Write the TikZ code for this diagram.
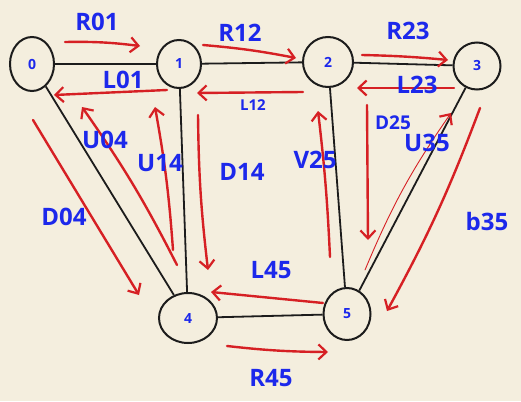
\documentclass[tikz,border=0pt]{standalone}
\usepackage{fontspec}
\setmainfont{Open Sans}
\usetikzlibrary{arrows.meta,shapes.geometric}
\definecolor{paper}{RGB}{244,238,222}
\definecolor{ink}{RGB}{28,28,28}
\definecolor{redink}{RGB}{214,32,36}
\definecolor{blueink}{RGB}{28,40,235}
\begin{document}
\begin{tikzpicture}[x=1pt,y=-1pt,
  vert/.style={ellipse,draw=ink,line width=2pt,inner sep=0pt,text=blueink,font=\fontsize{14}{14}\selectfont\bfseries},
  edge/.style={ink,line width=1.8pt},
  redarrow/.style={redink,line width=2.4pt,line cap=round,-{Straight Barb[length=8pt,width=15pt,line width=2.2pt]}},
  thinarrow/.style={redink,line width=0.9pt,line cap=round,-{Straight Barb[length=8pt,width=15pt,line width=2.2pt]}},
  lab/.style={text=blueink,inner sep=0pt,font=\fontsize{24}{24}\selectfont\bfseries},
  smalllab/.style={text=blueink,inner sep=0pt,font=\fontsize{15}{15}\selectfont\bfseries}]
\fill[paper] (0,0) rectangle (521,401);
\useasboundingbox (0,0) rectangle (521,401);
% vertices
\node[vert,minimum width=44pt,minimum height=54pt] (n0) at (32,64) {0};
\node[vert,minimum width=44pt,minimum height=48pt] (n1) at (179,64) {1};
\node[vert,minimum width=50pt,minimum height=50pt] (n2) at (328,62) {2};
\node[vert,minimum width=47pt,minimum height=47pt] (n3) at (477,66) {3};
\node[vert,minimum width=58pt,minimum height=50pt] (n4) at (188,318) {4};
\node[vert,minimum width=47pt,minimum height=52pt] (n5) at (347,314) {5};
% black edges
\draw[edge] (n0) -- (n1);
\draw[edge] (n1) -- (n2);
\draw[edge] (n2) -- (n3);
\draw[edge] (n0) -- (n4);
\draw[edge] (n1) -- (n4);
\draw[edge] (n2) -- (n5);
\draw[edge] (n3) -- (n5);
\draw[edge] (n4) -- (n5);
% arrow end points
\coordinate (a01s) at (65,42);   \coordinate (a01e) at (140,46);
\coordinate (a12s) at (203,45);  \coordinate (a12e) at (296,58);
\coordinate (a23s) at (362,55);  \coordinate (a23e) at (448,60);
\coordinate (b01s) at (167,90);  \coordinate (b01e) at (54,95);
\coordinate (b12s) at (303,92);  \coordinate (b12e) at (197,93);
\coordinate (b23s) at (454,88);  \coordinate (b23e) at (357,88);
\coordinate (u04s) at (177,265); \coordinate (u04e) at (82,107);
\coordinate (u14s) at (173,250); \coordinate (u14e) at (155,107);
\coordinate (d14s) at (198,115); \coordinate (d14e) at (208,270);
\coordinate (d04s) at (33,120);  \coordinate (d04e) at (139,295);
\coordinate (l45s) at (323,303); \coordinate (l45e) at (211,292);
\coordinate (r45s) at (227,346); \coordinate (r45e) at (328,352);
\coordinate (v25s) at (330,257); \coordinate (v25e) at (318,111);
\coordinate (d25s) at (367,105); \coordinate (d25e) at (368,240);
\coordinate (u35s) at (365,270); \coordinate (u35e) at (451,113);
\coordinate (d35s) at (480,108); \coordinate (d35e) at (387,311);
% red arrows
\draw[redarrow] (a01s) to[bend left=4] (a01e);
\draw[redarrow] (a12s) to[bend left=3] (a12e);
\draw[redarrow] (a23s) to[bend left=2] (a23e);
\draw[redarrow] (b01s) -- (b01e);
\draw[redarrow] (b12s) -- (b12e);
\draw[redarrow] (b23s) -- (b23e);
\draw[redarrow] (u04s) to[bend right=4] (u04e);
\draw[redarrow] (u14s) to[bend right=3] (u14e);
\draw[redarrow] (d14s) to[bend right=3] (d14e);
\draw[redarrow] (d04s) -- (d04e);
\draw[redarrow] (l45s) -- (l45e);
\draw[redarrow] (r45s) to[bend right=3] (r45e);
\draw[redarrow] (v25s) to[bend right=2] (v25e);
\draw[redarrow] (d25s) -- (d25e);
\draw[thinarrow] (u35s) to[bend left=6] (u35e);
\draw[redarrow] (d35s) to[bend left=4] (d35e);
% labels
\node[lab] (tR01) at (97,22) {R01};
\node[lab] (tR12) at (240,33) {R12};
\node[lab] (tR23) at (408,31) {R23};
\node[lab] (tL01) at (123,80) {L01};
\node[smalllab] (tL12) at (253,105) {L12};
\node[lab] (tL23) at (417,85) {L23};
\node[lab] (tU04) at (105,140) {U04};
\node[lab] (tU14) at (160,163) {U14};
\node[lab] (tD14) at (242,172) {D14};
\node[lab] (tV25) at (315,160) {V25};
\node[lab,font=\fontsize{19}{19}\selectfont\bfseries] (tD25) at (393,123) {D25};
\node[lab] (tU35) at (427,143) {U35};
\node[lab] (tD04) at (64,217) {D04};
\node[lab] (tL45) at (271,270) {L45};
\node[lab] (tR45) at (271,378) {R45};
\node[lab] (tb35) at (487,221) {b35};
\end{tikzpicture}
\end{document}
